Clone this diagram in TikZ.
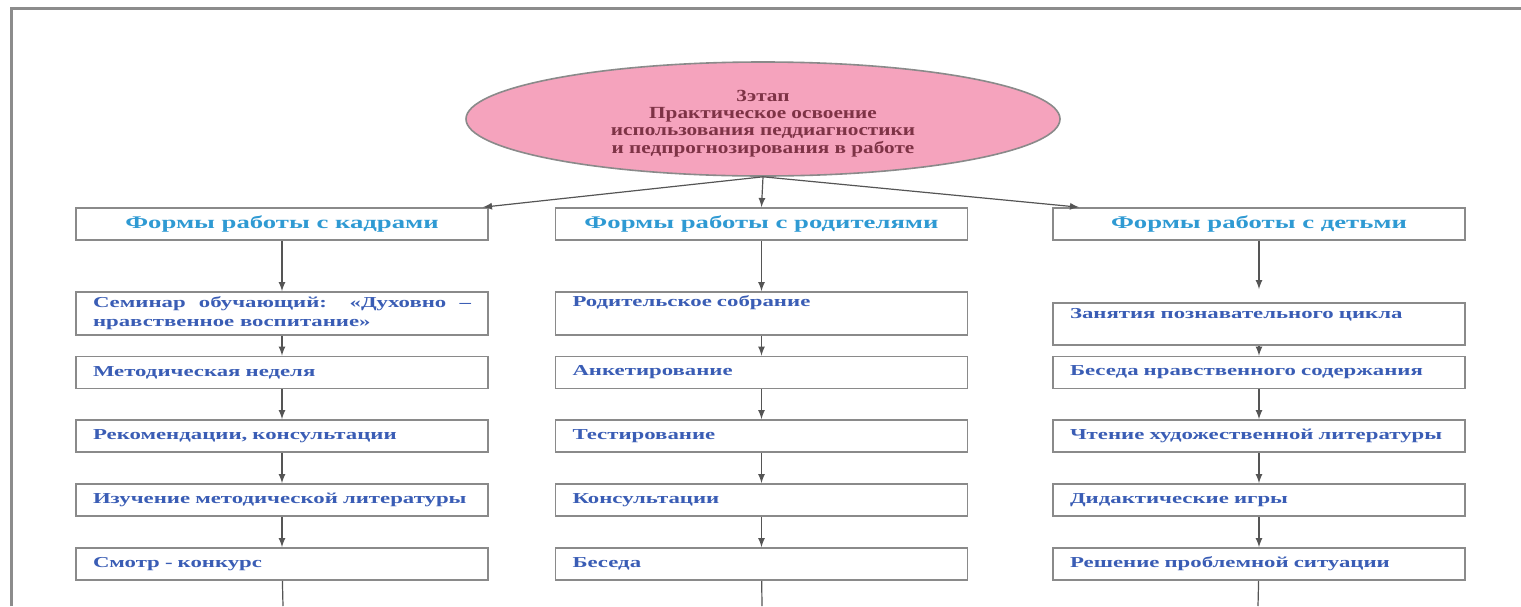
\documentclass[tikz,border=0pt]{standalone}
\usepackage{fontspec}
\setmainfont{Liberation Serif}[FakeStretch=1.5]
\newfontfamily\ovalfont{Liberation Serif}[FakeStretch=1.25]
\usepackage{tikz}
\usetikzlibrary{arrows,shapes,calc}

\definecolor{framegray}{HTML}{8C8C8C}
\definecolor{boxgray}{HTML}{8A8A8A}
\definecolor{linegray}{HTML}{555555}
\definecolor{ovalpink}{HTML}{F5A3BD}
\definecolor{ovaltext}{HTML}{7E3346}
\definecolor{headblue}{HTML}{2F9AD3}
\definecolor{itemblue}{HTML}{3A5DB5}

\begin{document}
\begin{tikzpicture}[x=0.5pt, y=-0.5pt, >=latex,
		stage/.style={ellipse, draw=boxgray, line width=0.8pt, fill=ovalpink, text=ovaltext, minimum width=297pt, minimum height=57pt, inner sep=0pt, align=center, font=\ovalfont\fontsize{8.5}{8.7}\selectfont\bfseries},
		head/.style={rectangle, draw=boxgray, line width=0.8pt, minimum width=206pt, minimum height=16pt, inner sep=0pt, text=headblue, font=\fontsize{8.9}{11}\selectfont\bfseries},
		item/.style={rectangle, draw=boxgray, line width=0.8pt, text width=189pt, inner xsep=8.5pt, inner ysep=0pt, minimum height=16pt, align=left, text=itemblue, font=\fontsize{7.6}{9.5}\selectfont\bfseries},
		link/.style={->, draw=linegray, line width=0.6pt}]
	\useasboundingbox (0,0) rectangle (1521,606);
	\fill[white] (0,0) rectangle (1521,606);
	\draw[framegray, line width=1.5pt] (11,606) -- (11,8) -- (1521,8);

	\node[stage](E) at (763,119) {\rule{0pt}{10pt}3этап\\Практическое освоение\\использования педдиагностики\\и педпрогнозирования в работе};

	\node[head](hK) at (282,224) {Формы работы с кадрами};
	\node[head](hR) at (761.5,224) {Формы работы с родителями};
	\node[head](hD) at (1259,224) {Формы работы с детьми};

	% кадры
	\node[item, minimum height=21.5pt, align=justify](k1) at (282,313.5) {Семинар обучающий: «Духовно –\linebreak нравственное воспитание»};
	\node[item](k2) at (282,372.5) {Методическая неделя};
	\node[item](k3) at (282,436) {Рекомендации, консультации};
	\node[item](k4) at (282,500) {Изучение методической литературы};
	\node[item](k5) at (282,564) {Смотр - конкурс};
	\coordinate (kB) at (283,606);

	% родители
	\node[item, minimum height=21.5pt, text depth=12pt](r1) at (761.5,313.5) {Родительское собрание};
	\node[item](r2) at (761.5,372.5) {Анкетирование};
	\node[item](r3) at (761.5,436) {Тестирование};
	\node[item](r4) at (761.5,500) {Консультации};
	\node[item](r5) at (761.5,564) {Беседа};
	\coordinate (rB) at (762,606);

	% дети
	\node[item, minimum height=21pt, text depth=11pt](d1) at (1259,324) {Занятия познавательного цикла};
	\node[item](d2) at (1259,372.5) {Беседа нравственного содержания};
	\node[item](d3) at (1259,436) {Чтение художественной литературы};
	\node[item](d4) at (1259,500) {Дидактические игры};
	\node[item](d5) at (1259,564) {Решение проблемной ситуации};
	\coordinate (dB) at (1258,606);

	\draw[link](E.south) -- ($(hK.north east)+(-6,0)$);
	\draw[link](E.south) -- (hR.north);
	\draw[link](E.south) -- ($(hD.north west)+(27,0)$);

	\draw[link](hK) -- (k1);
	\draw[link](k1) -- (k2);
	\draw[link](k2) -- (k3);
	\draw[link](k3) -- (k4);
	\draw[link](k4) -- (k5);
	\draw[draw=linegray, line width=0.6pt](k5) -- (kB);

	\draw[link](hR) -- (r1);
	\draw[link](r1) -- (r2);
	\draw[link](r2) -- (r3);
	\draw[link](r3) -- (r4);
	\draw[link](r4) -- (r5);
	\draw[draw=linegray, line width=0.6pt](r5) -- (rB);

	\draw[link](hD) -- ($(d1.north)+(0,-13)$);
	\draw[link](d1) -- (d2);
	\draw[link](d2) -- (d3);
	\draw[link](d3) -- (d4);
	\draw[link](d4) -- (d5);
	\draw[draw=linegray, line width=0.6pt](d5) -- (dB);
\end{tikzpicture}
\end{document}
